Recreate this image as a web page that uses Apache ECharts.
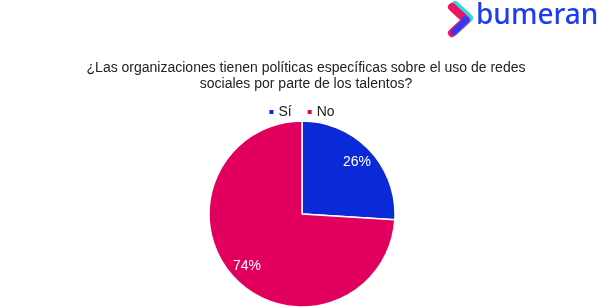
<!DOCTYPE html>
<html><head><meta charset="utf-8">
<script src="https://cdn.jsdelivr.net/npm/echarts@6/dist/echarts.min.js"></script>
<style>html,body{margin:0;padding:0;background:#fff}#c{width:602px;height:308px}</style>
</head><body><div id="c"></div>
<script>
const categories = ['Sí', 'No'];
const values = [26, 74];
const colors = ['#0A2AD8', '#E2005F'];
const titleText = '¿Las organizaciones tienen políticas específicas sobre el uso de redes\nsociales por parte de los talentos?';

const chart = echarts.init(document.getElementById('c'));
const data = categories.map((c, i) => ({ name: c, value: values[i], itemStyle: { color: colors[i] } }));
chart.setOption({
  animation: false,
  title: {
    text: titleText, left: 301, top: 55, textAlign: 'center',
    textStyle: { fontFamily: 'Liberation Sans', fontSize: 14, fontWeight: 'normal', color: '#222', lineHeight: 16 }
  },
  legend: {
    data: categories, top: 100, left: 'center', icon: 'rect', itemWidth: 6, itemHeight: 6, itemGap: 14,
    textStyle: { fontFamily: 'Liberation Sans', fontSize: 14, color: '#222', padding: [0, 0, 0, -1] }
  },
  graphic: [
    { type: 'polyline', shape: { points: [[455, 5], [469, 18], [455, 31]] }, style: { stroke: '#2FD6E2', lineWidth: 8, fill: null, lineJoin: 'round', lineCap: 'round' } },
    { type: 'polyline', shape: { points: [[452, 7], [466, 20], [452, 33]] }, style: { stroke: '#EA1660', lineWidth: 8, fill: null, lineJoin: 'round', lineCap: 'round' } },
    { type: 'polyline', shape: { points: [[465, 19], [466, 20], [454, 32]] }, style: { stroke: '#2E3BF2', lineWidth: 6, fill: null, lineJoin: 'round', lineCap: 'round' } },
    { type: 'text', left: 476, top: 2, style: { text: 'bumeran', fill: '#1E3CF2', font: '500 28px "Noto Sans"' } }
  ],
  series: [
    {
      type: 'pie', center: [302, 214], radius: [0, 93], startAngle: 90, clockwise: true,
      data: data, label: { show: false }, labelLine: { show: false },
      itemStyle: { borderColor: '#fff', borderWidth: 1.5 }, silent: true
    },
    {
      type: 'pie', center: [302, 214], radius: [52, 93], startAngle: 90, clockwise: true,
      data: categories.map((c, i) => ({ name: c, value: values[i] })),
      itemStyle: { color: 'rgba(0,0,0,0)' }, silent: true, legendHoverLink: false,
      label: { show: true, position: 'inside', formatter: '{c}%', color: '#fff', fontFamily: 'Liberation Sans', fontSize: 14 },
      labelLine: { show: false }, emphasis: { disabled: true }
    }
  ]
});
</script></body></html>
